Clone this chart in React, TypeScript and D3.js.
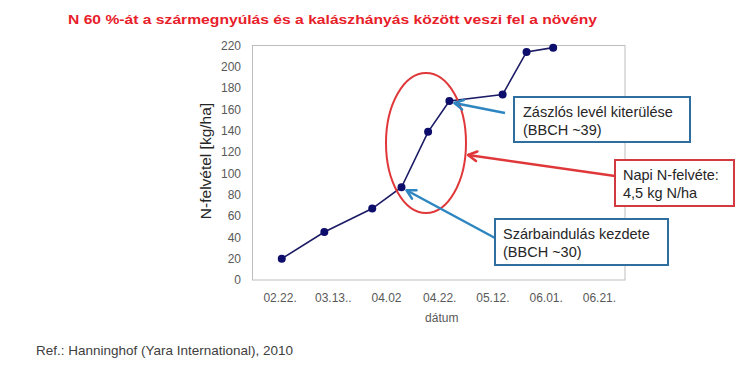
import React from "react";
import * as d3 from "d3";

const dates = ["2008-02-23", "2008-03-10", "2008-03-28", "2008-04-08", "2008-04-18", "2008-04-26", "2008-05-16", "2008-05-25", "2008-06-04"];
const values = [20, 45, 67, 87, 139, 168, 174, 214, 218];
const tickDates = ["2008-02-22", "2008-03-13", "2008-04-02", "2008-04-22", "2008-05-12", "2008-06-01", "2008-06-21"];
const tickLabels = ["02.22.", "03.13..", "04.02", "04.22.", "05.12.", "06.01.", "06.21."];
const yTicks = [0, 20, 40, 60, 80, 100, 120, 140, 160, 180, 200, 220];

const titleText = "N 60 %-át a szármegnyúlás és a kalászhányás között veszi fel a növény";
const yLabel = "N-felvétel [kg/ha]";
const xLabel = "dátum";
const refText = "Ref.: Hanninghof (Yara International), 2010";

const FONT = "'Liberation Sans', Arial, sans-serif";

function Arrow({ x1, y1, x2, y2, color }: { x1: number; y1: number; x2: number; y2: number; color: string }) {
  const ang = Math.atan2(y1 - y2, x1 - x2);
  const len = 10, spread = 0.5;
  const a1x = x2 + len * Math.cos(ang + spread), a1y = y2 + len * Math.sin(ang + spread);
  const a2x = x2 + len * Math.cos(ang - spread), a2y = y2 + len * Math.sin(ang - spread);
  return (
    <g stroke={color} strokeWidth={2.5} fill="none" strokeLinecap="round" strokeLinejoin="round">
      <line x1={x1} y1={y1} x2={x2} y2={y2} strokeLinecap="butt" />
      <path d={`M${a1x},${a1y} L${x2},${y2} L${a2x},${a2y}`} />
    </g>
  );
}

export default function App() {
  const W = 750, H = 370;
  const left = 252.5, right = 625, top = 45.5, bottom = 280;
  const parse = (s: string) => new Date(s + "T00:00:00Z");
  const x = d3.scaleUtc().domain([parse("2008-02-12"), parse("2008-07-01")]).range([left, right]);
  const y = d3.scaleLinear().domain([0, 220]).range([bottom, top]);
  const pts = dates.map((d, i) => ({ x: x(parse(d)), y: y(values[i]) }));
  const line = d3.line<{ x: number; y: number }>().x(d => d.x).y(d => d.y);

  const navy = "#0d0d6b";
  const blue = "#2e86c1";
  const boxBlue = "#2f6f9f";
  const red = "#e0383a";
  const boxRed = "#d23a3f";
  const txt = "#262626";
  const grey = "#595959";

  const p2 = pts[5]; // flag leaf point
  const p1 = pts[3]; // stem elongation start

  return (
    <svg width={W} height={H} style={{ position: "absolute", left: 0, top: 0, background: "#fff" }} fontFamily={FONT}>
      <rect width={W} height={H} fill="#fff" />
      <text x={68} y={24} fontSize={13.5} fontWeight="bold" fill="#e8202a" textLength={529} lengthAdjust="spacingAndGlyphs">{titleText}</text>

      <rect x={left} y={top} width={right - left} height={bottom - top} fill="none" stroke="#bdbdbd" strokeWidth={1} />

      {yTicks.map(t => (
        <text key={t} x={241} y={y(t)} dy="0.35em" textAnchor="end" fontSize={12} fill={grey}>{t}</text>
      ))}
      {tickDates.map((d, i) => (
        <text key={d} x={x(parse(d)) + 1} y={302} textAnchor="middle" fontSize={12} fill={grey}>{tickLabels[i]}</text>
      ))}
      <text x={(left + right) / 2 + 3} y={322} textAnchor="middle" fontSize={12} fill={grey}>{xLabel}</text>
      <text transform={`translate(211,161) rotate(-90)`} textAnchor="middle" fontSize={15.5} fill={txt}>{yLabel}</text>

      <path d={line(pts) || ""} fill="none" stroke="#1b1b66" strokeWidth={1.6} />
      {pts.map((p, i) => (
        <circle key={i} cx={p.x} cy={p.y} r={4} fill={navy} />
      ))}

      <ellipse cx={426} cy={143} rx={40} ry={70} fill="none" stroke={red} strokeWidth={2} />

      <Arrow x1={505} y1={113} x2={p2.x + 5} y2={p2.y + 2} color={blue} />
      <Arrow x1={495} y1={238} x2={p1.x + 5} y2={p1.y + 3} color={blue} />
      <Arrow x1={615} y1={176} x2={468} y2={155} color={red} />

      <rect x={514} y={97} width={176} height={45} fill="#fff" stroke={boxBlue} strokeWidth={2} />
      <text x={523} y={117} fontSize={14.5} fill={txt}>Zászlós levél kiterülése</text>
      <text x={523} y={135} fontSize={14.5} fill={txt}>(BBCH ~39)</text>

      <rect x={615} y={160} width={119} height={46} fill="#fff" stroke={boxRed} strokeWidth={2} />
      <text x={623} y={180} fontSize={14.5} fill={txt}>Napi N-felvéte:</text>
      <text x={623} y={198} fontSize={14.5} fill={txt}>4,5 kg N/ha</text>

      <rect x={495} y={219} width={173} height={46} fill="#fff" stroke={boxBlue} strokeWidth={2} />
      <text x={503} y={239} fontSize={14.5} fill={txt}>Szárbaindulás kezdete</text>
      <text x={503} y={257} fontSize={14.5} fill={txt}>(BBCH ~30)</text>

      <text x={36} y={355} fontSize={13.5} fill="#404040" textLength={257} lengthAdjust="spacingAndGlyphs">{refText}</text>
    </svg>
  );
}
